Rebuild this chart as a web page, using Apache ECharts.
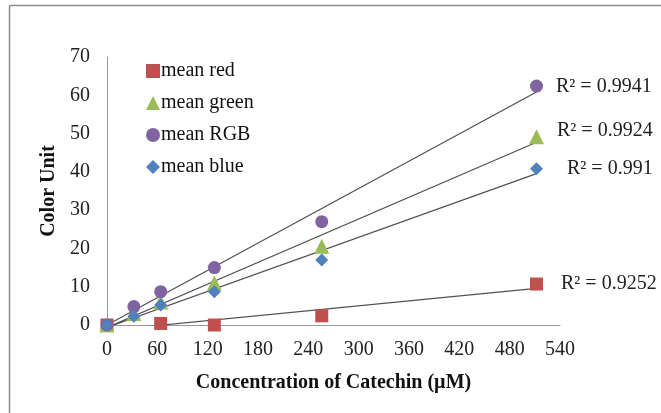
<!DOCTYPE html>
<html><head><meta charset="utf-8">
<script src="https://cdn.jsdelivr.net/npm/echarts@6/dist/echarts.min.js"></script>
<style>html,body{margin:0;padding:0;background:#fff}#c{width:661px;height:413px}</style>
</head><body><div id="c"></div>
<script>
const concentrations = [0, 32, 64, 128, 256, 512];
const redConc = [0, 64, 128, 256, 512];
const meanRed = [0, 0.4, 0, 2.4, 10.7];
const meanGreen = [0, 3.0, 6.0, 11.0, 20.6, 49.2];
const meanRGB = [0, 4.8, 8.7, 15.0, 27.0, 62.4];
const meanBlue = [0, 2.3, 5.2, 8.7, 17.0, 40.8];
const seriesNames = ['mean red', 'mean green', 'mean RGB', 'mean blue'];
const rSquared = ['0.9252', '0.9924', '0.9941', '0.991'];
const xTicks = [0, 60, 120, 180, 240, 300, 360, 420, 480, 540];
const yTicks = [0, 10, 20, 30, 40, 50, 60, 70];

const colors = ['#C0504D', '#9BBB59', '#8064A2', '#4F81BD'];
const symbols = ['rect', 'triangle', 'circle', 'diamond'];
const sizes = [13, 15, 13, 13];
const labelOffsets = [[13, 0], [8, -6], [8, 1], [19, 0]];
const xs = [redConc, concentrations, concentrations, concentrations];
const ys = [meanRed, meanGreen, meanRGB, meanBlue];

function fit(x, y) {
  const n = x.length;
  const mx = x.reduce((a, b) => a + b, 0) / n;
  const my = y.reduce((a, b) => a + b, 0) / n;
  let sxy = 0, sxx = 0;
  for (let i = 0; i < n; i++) { sxy += (x[i] - mx) * (y[i] - my); sxx += (x[i] - mx) ** 2; }
  const b = sxy / sxx;
  return { b, a: my - b * mx };
}

const series = [];
for (let k = 0; k < 4; k++) {
  const f = fit(xs[k], ys[k]);
  const x0 = 0, x1 = xs[k][xs[k].length - 1];
  series.push({
    type: 'line', name: 'trend' + k, silent: true, symbol: 'none', clip: true,
    lineStyle: { color: '#505050', width: 1.2 },
    data: [[x0, f.a + f.b * x0], [x1, f.a + f.b * x1]], z: 1
  });
}
for (let k = 0; k < 4; k++) {
  const last = xs[k].length - 1;
  series.push({
    type: 'scatter', name: seriesNames[k], symbol: symbols[k], symbolSize: sizes[k],
    itemStyle: { color: colors[k], opacity: 1 }, z: 3 + (k === 3 ? 1 : 0),
    data: xs[k].map((x, i) => {
      const d = { value: [x, ys[k][i]] };
      if (i === last) {
        d.label = {
          show: true, position: 'right', offset: labelOffsets[k],
          formatter: 'R² = ' + rSquared[k],
          fontFamily: 'Liberation Serif', fontSize: 20, color: '#222'
        };
      }
      return d;
    })
  });
}

const chart = echarts.init(document.getElementById('c'), null, { renderer: 'canvas' });
chart.setOption({
  backgroundColor: '#fff',
  animation: false,
  textStyle: { fontFamily: 'Liberation Serif' },
  grid: { left: 107, right: 101, top: 57, bottom: 88 },
  legend: {
    orient: 'vertical', left: 141, top: 56, itemGap: 12,
    itemWidth: 14, itemHeight: 14,
    data: seriesNames.map((n, k) => ({ name: n, icon: symbols[k] })),
    textStyle: { fontFamily: 'Liberation Serif', fontSize: 20, color: '#111', padding: [0, 0, 0, -4] }
  },
  xAxis: {
    type: 'value', min: 0, max: 540, interval: 60,
    name: 'Concentration of Catechin (µM)', nameLocation: 'middle', nameGap: 48,
    nameTextStyle: { fontFamily: 'Liberation Serif', fontWeight: 'bold', fontSize: 20, color: '#111' },
    axisLine: { show: true, lineStyle: { color: '#999', width: 1 } },
    axisTick: { show: false }, splitLine: { show: false },
    axisLabel: { fontFamily: 'Liberation Serif', fontSize: 20, color: '#222', margin: 15,
      formatter: v => xTicks.includes(v) ? String(v) : '' }
  },
  yAxis: {
    type: 'value', min: 0, max: 70, interval: 10,
    name: 'Color Unit', nameLocation: 'middle', nameGap: 40, nameRotate: 90,
    nameTextStyle: { fontFamily: 'Liberation Serif', fontWeight: 'bold', fontSize: 20, color: '#111' },
    axisLine: { show: true, lineStyle: { color: '#999', width: 1 } },
    axisTick: { show: false }, splitLine: { show: false },
    axisLabel: { fontFamily: 'Liberation Serif', fontSize: 20, color: '#222', margin: 17,
      formatter: v => yTicks.includes(v) ? String(v) : '' }
  },
  graphic: [
    { type: 'line', shape: { x1: 9.5, y1: 5.5, x2: 661, y2: 5.5 }, style: { stroke: '#8c8c8c', lineWidth: 1.5 } },
    { type: 'line', shape: { x1: 9.5, y1: 5.5, x2: 9.5, y2: 413 }, style: { stroke: '#8c8c8c', lineWidth: 1.5 } }
  ],
  series
});
</script></body></html>
